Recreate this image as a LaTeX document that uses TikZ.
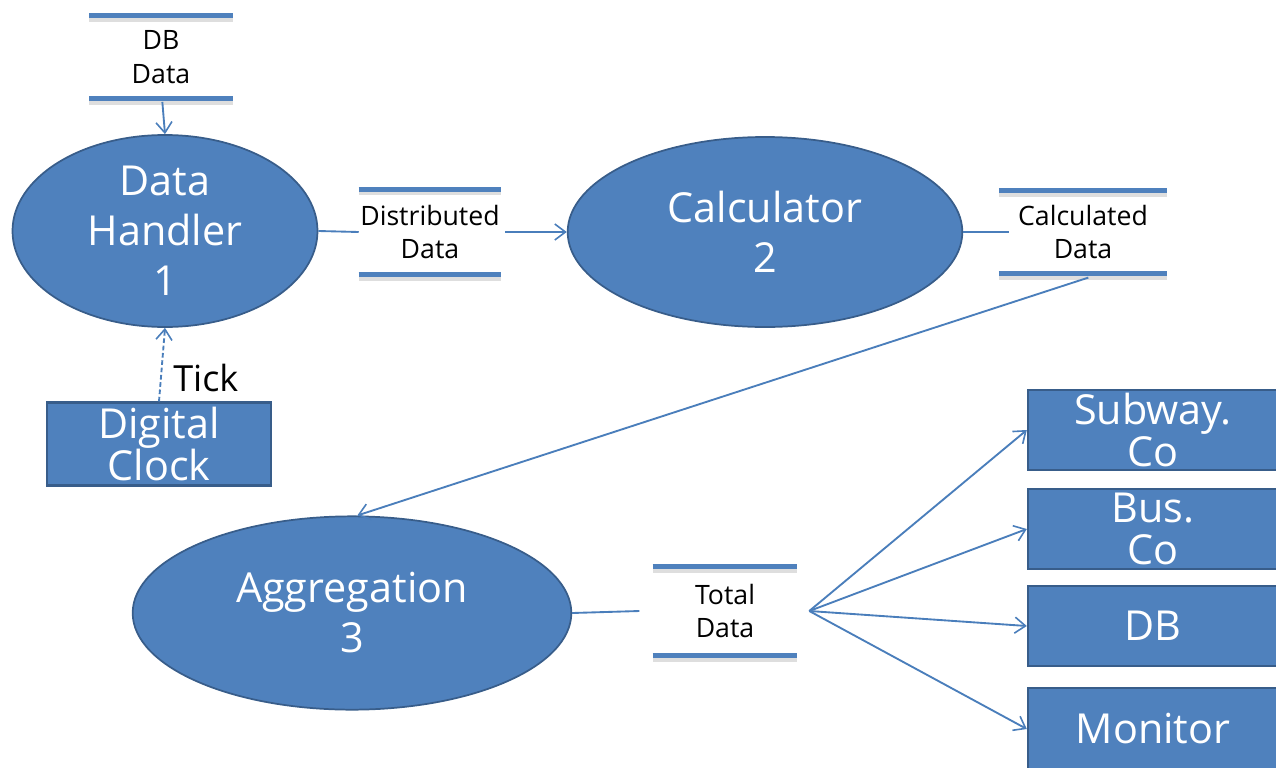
\documentclass[tikz,border=0pt]{standalone}
\usepackage{fontspec}
\setmainfont{Open Sans}
\usetikzlibrary{shapes.geometric,arrows.meta}
\definecolor{fillblue}{HTML}{4F81BD}
\definecolor{edgeblue}{HTML}{385D8A}
\definecolor{lineblue}{HTML}{4A7EBB}
\tikzset{
  proc/.style={ellipse, fill=fillblue, draw=edgeblue, line width=1.3pt, inner sep=0pt,
    text=white, align=center, font=\fontsize{31}{37.5}\selectfont},
  ext/.style={rectangle, fill=fillblue, draw=edgeblue, line width=1.8pt, inner sep=0pt,
    text=white, align=center, font=\fontsize{31}{32}\selectfont},
  store/.style={rectangle, inner sep=0pt, align=center, text=black,
    font=\fontsize{20}{25}\selectfont},
  storeline/.style={line width=3.8pt, fillblue},
  storeshadow/.style={line width=3pt, black!13},
  flow/.style={lineblue, line width=1.4pt},
  flowarr/.style={flow, -{Straight Barb[length=8pt,width=12pt,line width=1.2pt]}},
}
\begin{document}
\begin{tikzpicture}[x=0.75pt,y=-0.75pt]
\useasboundingbox (0,0) rectangle (1276,767);

% processes
\node[proc, minimum width=228.75pt, minimum height=144pt] (dh) at (165,231) {Data\\Handler\\1};
\node[proc, minimum width=296pt, minimum height=142.5pt] (calc) at (765,232) {Calculator\\2};
\node[proc, minimum width=329pt, minimum height=145pt] (agg) at (352,613) {Aggregation\\3};

% external entities
\node[ext, minimum width=168pt, minimum height=62pt] (clock) at (159,444) {Digital\\Clock};
\node[ext, minimum width=187.5pt, minimum height=60pt] (subway) at (1153,430) {Subway.\\Co};
\node[ext, minimum width=187.5pt, minimum height=60pt] (bus) at (1153,529) {Bus.\\Co};
\node[ext, minimum width=187.5pt, minimum height=60pt] (db) at (1153,626) {DB};
\node[ext, minimum width=187.5pt, minimum height=61.5pt] (mon) at (1153,729) {Monitor};

% data stores
\node[store, minimum width=107pt, minimum height=62pt] (dbd) at (161,57) {DB\\Data};
\node[store, minimum width=106.5pt, minimum height=64pt] (dist) at (430,232) {Distributed\\Data};
\node[store, minimum width=126pt, minimum height=62pt] (calcd) at (1083,232) {Calculated\\Data};
\node[store, minimum width=108pt, minimum height=66pt] (tot) at (725,611) {Total\\Data};

\foreach \s in {dbd,dist,calcd,tot}{
  \draw[storeshadow] ([yshift=-3.2pt]\s.north west) -- ([yshift=-3.2pt]\s.north east);
  \draw[storeshadow] ([yshift=-3.2pt]\s.south west) -- ([yshift=-3.2pt]\s.south east);
  \draw[storeline] (\s.north west) -- (\s.north east);
  \draw[storeline] (\s.south west) -- (\s.south east);
}

% Tick label
\node[font=\fontsize{27}{30}\selectfont, anchor=west, inner sep=0pt] (tick) at (173,378) {Tick};

% flows
\draw[flowarr] ([xshift=1pt,yshift=-2.5pt]dbd.south) -- (dh.north);
\draw[flowarr, dashed, dash pattern=on 3.5pt off 2pt] (clock.north) -- (dh.south);
\draw[flow] (dh.east) -- (dist.west);
\draw[flowarr] ([xshift=3pt]dist.east) -- (calc.west);
\draw[flow] (calc.east) -- ([xshift=8pt]calcd.west);
\draw[flowarr] ([xshift=4pt,yshift=-3pt]calcd.south) -- ([xshift=4pt]agg.north);
\draw[flow] (agg.east) -- ([xshift=-10pt]tot.west);
\coordinate (hub) at ([xshift=9pt]tot.east);
\foreach \t in {subway,bus,db,mon}{
  \draw[flowarr] (hub) -- (\t.west);
}
\end{tikzpicture}
\end{document}
